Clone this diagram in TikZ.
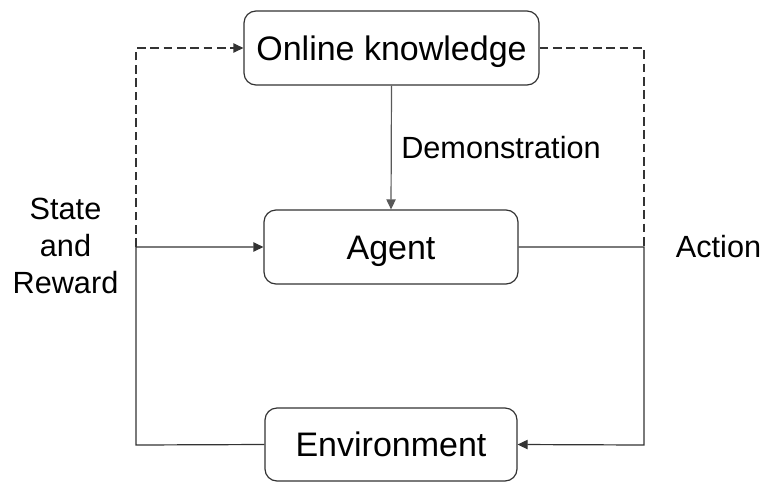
\documentclass[tikz,border=0pt]{standalone}
\usepackage{fontspec}
\setmainfont{Liberation Sans}
\usetikzlibrary{arrows.meta}
\begin{document}
\begin{tikzpicture}[x=0.75pt,y=-0.75pt,
  box/.style={draw=black!80,line width=0.9pt,rounded corners=9pt,inner sep=0pt,
    minimum height=55.5pt,text height=18.3pt,text depth=0pt,font=\fontsize{25.5}{30}\selectfont},
  lbl/.style={inner sep=0pt,font=\fontsize{23}{27.75}\selectfont,align=center},
  wire/.style={draw=black!80,line width=0.9pt},
  dwire/.style={wire,dash pattern=on 6.5pt off 3.5pt},
  tip/.style={-{Triangle[length=7.5pt,width=7pt]}}]
\useasboundingbox (0,0) rectangle (766,482);
\node[box,minimum width=221.25pt] (ok) at (391.5,48) {Online knowledge};
\node[box,minimum width=190.5pt] (ag) at (391,247) {Agent};
\node[box,minimum width=189pt,minimum height=54.75pt] (env) at (391,444.5) {Environment};
\coordinate (jl) at (136,247);
\coordinate (jr) at (644,247);
\coordinate (tl) at (136,48);
\coordinate (tr) at (644,48);
\coordinate (bl) at (136,445);
\coordinate (br) at (644,445);
\draw[dwire,tip] (jl) -- (tl) -- (ok.west);
\draw[dwire] (ok.east) -- (tr) -- (jr);
\draw[wire,draw=black!65,tip] (ok.south) -- (ag.north);
\draw[wire,tip] (env.west) -- (bl) -- (jl) -- (ag.west);
\draw[wire,tip] (ag.east) -- (jr) -- (br) -- (env.east);
\node[lbl,anchor=west] (demo) at (401,148) {Demonstration};
\node[lbl] (act) at (718.5,247) {Action};
\node[lbl] (sr) at (65.5,246) {State\\and\\Reward};
\end{tikzpicture}
\end{document}
